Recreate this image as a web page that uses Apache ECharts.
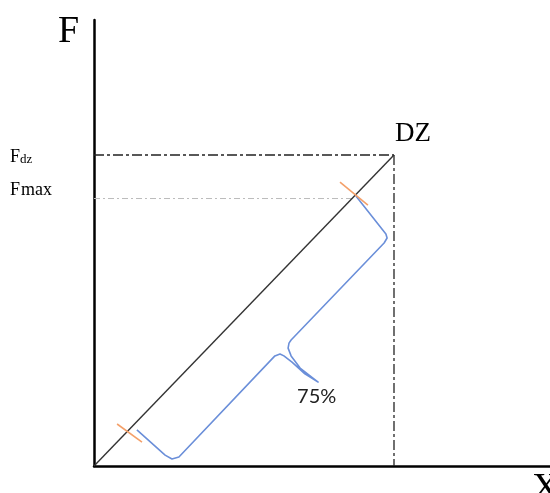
<!DOCTYPE html>
<html><head><meta charset="utf-8">
<script src="https://cdn.jsdelivr.net/npm/echarts@6/dist/echarts.min.js"></script>
<style>html,body{margin:0;padding:0;background:#fff}#c{width:550px;height:493px}</style>
</head><body><div id="c"></div>
<script>
// Data (diagram units: DZ point at x=100, F=100)
const xMax = 152, yMax = 143.4;
const xDZ = 100, fDZ = 100, fMax = 86;
const diagX = [0, 100], diagY = [0, 100];
const orangeUpX = [82, 91.3], orangeUpY = [91.3, 83.9];
const orangeLowX = [7.7, 16], orangeLowY = [13.5, 7.7];
const braceX = [14.3, 23.7, 26, 28.3, 60.3, 62, 63.3, 66, 70.3, 74.7, 68.7, 65.7, 64.7, 65, 65.7, 96.7, 97.7, 97.3, 87.3];
const braceY = [11.6, 3.5, 2.25, 2.9, 35.4, 36.0, 35.4, 33.4, 29.6, 27.0, 31.5, 35.4, 37.9, 39.5, 40.5, 71.7, 73.3, 74.6, 86.8];
const tipIndex = 9;
const labelF = 'F', labelX = 'X', labelDZ = 'DZ', labelPct = '75%';

const zip = (a, b) => a.map((v, i) => [v, b[i]]);
const chart = echarts.init(document.getElementById('c'), null, {renderer: 'canvas'});
const axisCommon = {
  type: 'value', min: 0,
  axisLine: {show: true, lineStyle: {color: '#000', width: 2.5}},
  axisTick: {show: false}, axisLabel: {show: false}, splitLine: {show: false}
};
chart.setOption({
  animation: false,
  grid: {left: 94, right: 0, top: 20, bottom: 27},
  xAxis: Object.assign({}, axisCommon, {max: xMax}),
  yAxis: Object.assign({}, axisCommon, {max: yMax}),
  series: [
    {type: 'line', data: [[0, fDZ], [xDZ, fDZ]], symbol: 'none',
     lineStyle: {color: '#222', width: 1.3, type: [10, 3, 3, 3]}},
    {type: 'line', data: [[xDZ, fDZ], [xDZ, 0]], symbol: 'none',
     lineStyle: {color: '#222', width: 1.3, type: [10, 3, 3, 3]}},
    {type: 'line', data: [[0, fMax], [orangeUpX[0] + 4.3, fMax]], symbol: 'none',
     lineStyle: {color: '#bbb', width: 1, type: [6, 3, 2, 3]}},
    {type: 'line', data: zip(diagX, diagY), symbol: 'none',
     lineStyle: {color: '#333', width: 1.4}},
    {type: 'line', data: zip(braceX, braceY), symbol: 'none',
     lineStyle: {color: '#6b8fd9', width: 1.6, join: 'round'}},
    {type: 'line', data: zip(orangeUpX, orangeUpY), symbol: 'none',
     lineStyle: {color: '#f4a06a', width: 1.6}},
    {type: 'line', data: zip(orangeLowX, orangeLowY), symbol: 'none',
     lineStyle: {color: '#f4a06a', width: 1.6}}
  ]
});

const pDZ = chart.convertToPixel({gridIndex: 0}, [xDZ, fDZ]);
const pMax = chart.convertToPixel({gridIndex: 0}, [0, fMax]);
const pTip = chart.convertToPixel({gridIndex: 0}, [braceX[tipIndex], braceY[tipIndex]]);
const serif = '"Liberation Serif", "Times New Roman", serif';
chart.setOption({
  graphic: [
    {type: 'text', left: 58, top: 13, style: {text: labelF, font: '38px ' + serif, fill: '#000'}},
    {type: 'text', left: 532, top: 470, style: {text: labelX, font: '38px ' + serif, fill: '#000'}},
    {type: 'text', x: pDZ[0] + 1, y: pDZ[1] - 8, style: {text: labelDZ, font: '27px ' + serif, fill: '#000', verticalAlign: 'bottom'}},
    {type: 'text', x: 10, y: pDZ[1] + 11, style: {
      text: '{a|F}{b|dz}', verticalAlign: 'bottom',
      rich: {a: {fontFamily: serif, fontSize: 18, fill: '#000'}, b: {fontFamily: serif, fontSize: 13, fill: '#000', verticalAlign: 'bottom'}}}},
    {type: 'text', x: 10, y: pMax[1] + 1, style: {text: 'F', font: '18px ' + serif, fill: '#000', verticalAlign: 'bottom'}},
    {type: 'text', x: 21, y: pMax[1] + 1, style: {text: 'max', font: '18px ' + serif, fill: '#000', verticalAlign: 'bottom'}},
    {type: 'text', x: pTip[0] - 21, y: pTip[1] + 5, style: {text: labelPct, font: '20px Lato, "Open Sans", sans-serif', fill: '#222'}}
  ]
});
</script></body></html>
